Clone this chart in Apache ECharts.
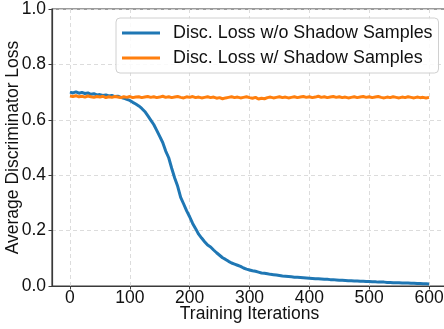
<!DOCTYPE html>
<html><head><meta charset="utf-8">
<script src="https://cdn.jsdelivr.net/npm/echarts@6/dist/echarts.min.js"></script>
<style>html,body{margin:0;padding:0;background:#fff}#c{width:444px;height:329px}</style>
</head><body><div id="c"></div>
<script>
const iterations = [0,5,10,15,20,25,30,35,40,45,50,55,60,65,70,75,80,85,90,95,100,105,110,115,120,125,130,135,140,145,150,155,160,165,170,175,180,185,190,195,200,205,210,215,220,225,230,235,240,245,250,255,260,265,270,275,280,285,290,295,300,305,310,315,320,325,330,335,340,345,350,355,360,365,370,375,380,385,390,395,400,405,410,415,420,425,430,435,440,445,450,455,460,465,470,475,480,485,490,495,500,505,510,515,520,525,530,535,540,545,550,555,560,565,570,575,580,585,590,595,600];
const lossWithoutShadow = [0.700,0.697,0.701,0.696,0.699,0.695,0.697,0.692,0.694,0.690,0.691,0.688,0.690,0.686,0.688,0.684,0.685,0.681,0.678,0.674,0.670,0.663,0.657,0.650,0.641,0.630,0.615,0.599,0.583,0.562,0.540,0.518,0.487,0.463,0.425,0.390,0.360,0.320,0.296,0.271,0.250,0.226,0.207,0.187,0.173,0.160,0.148,0.141,0.130,0.120,0.111,0.102,0.096,0.089,0.083,0.079,0.075,0.071,0.065,0.061,0.058,0.055,0.053,0.050,0.047,0.046,0.044,0.042,0.041,0.040,0.038,0.036,0.035,0.034,0.033,0.032,0.032,0.031,0.030,0.029,0.028,0.027,0.026,0.026,0.025,0.024,0.024,0.023,0.023,0.022,0.021,0.021,0.020,0.019,0.019,0.018,0.018,0.017,0.017,0.016,0.016,0.015,0.015,0.014,0.014,0.014,0.013,0.013,0.012,0.012,0.012,0.011,0.011,0.011,0.010,0.010,0.009,0.009,0.008,0.008,0.007];
const lossWithShadow = [0.686,0.684,0.687,0.683,0.685,0.682,0.686,0.683,0.681,0.684,0.682,0.685,0.680,0.683,0.681,0.684,0.682,0.680,0.683,0.681,0.684,0.680,0.682,0.683,0.680,0.682,0.684,0.681,0.683,0.680,0.682,0.685,0.681,0.683,0.680,0.682,0.684,0.681,0.679,0.683,0.681,0.684,0.680,0.682,0.679,0.681,0.683,0.680,0.682,0.678,0.680,0.676,0.679,0.681,0.683,0.680,0.682,0.679,0.681,0.683,0.680,0.678,0.681,0.675,0.678,0.676,0.680,0.682,0.679,0.681,0.683,0.680,0.682,0.679,0.681,0.683,0.680,0.682,0.684,0.681,0.683,0.680,0.682,0.685,0.681,0.683,0.680,0.682,0.684,0.681,0.683,0.680,0.682,0.679,0.681,0.683,0.680,0.682,0.684,0.681,0.683,0.680,0.682,0.684,0.681,0.679,0.682,0.680,0.683,0.681,0.679,0.682,0.680,0.683,0.681,0.679,0.682,0.680,0.681,0.679,0.681];
const seriesNames = ['Disc. Loss w/o Shadow Samples','Disc. Loss w/ Shadow Samples'];
const xTicks = [0,100,200,300,400,500,600];

const font = 'Liberation Sans, Arial, sans-serif';
const fs = 17.5;
const chart = echarts.init(document.getElementById('c'), null, {renderer:'canvas'});
const pair = arr => iterations.map((x,i)=>[x,arr[i]]);
chart.setOption({
  animation:false,
  backgroundColor:'#fff',
  grid:{left:52, top:9, width:395, height:277, show:true, containLabel:false, outerBoundsMode:'none', borderColor:'#3a3a3a', borderWidth:1.2, backgroundColor:'transparent'},
  legend:{
    left:116, top:18, orient:'vertical',
    itemWidth:38, itemHeight:3, itemGap:7, icon:'rect',
    padding:[6,6,6,6],
    backgroundColor:'rgba(255,255,255,0.85)', borderColor:'#d0d0d0', borderWidth:1, borderRadius:4,
    textStyle:{fontFamily:font, fontSize:17.9, color:'#111', padding:[0,0,0,8], lineHeight:18},
    data:seriesNames
  },
  xAxis:{
    type:'value', min:-30, max:630,
    name:'Training Iterations', nameLocation:'middle', nameGap:19, nameMoveOverlap:false,
    nameTextStyle:{fontFamily:font, fontSize:fs, color:'#111'},
    axisLine:{show:true, onZero:false, lineStyle:{color:'#3a3a3a', width:1.2}},
    axisTick:{show:true, length:3.5, lineStyle:{color:'#3a3a3a'}, customValues:xTicks},
    axisLabel:{fontFamily:font, fontSize:fs, color:'#111', margin:3, customValues:xTicks},
    splitLine:{show:true, lineStyle:{color:'#d8d8d8', type:[4,3], width:0.9}}
  },
  yAxis:{
    type:'value', min:0, max:1, interval:0.2,
    name:'Average Discriminator Loss', nameLocation:'middle', nameGap:30, nameMoveOverlap:false,
    nameTextStyle:{fontFamily:font, fontSize:fs, color:'#111'},
    axisLine:{show:true, onZero:false, lineStyle:{color:'#3a3a3a', width:1.2}},
    axisTick:{show:true, length:3.5, lineStyle:{color:'#3a3a3a'}},
    axisLabel:{fontFamily:font, fontSize:fs, color:'#111', margin:6, formatter:v=>v.toFixed(1)},
    splitLine:{show:true, lineStyle:{color:'#d8d8d8', type:[4,3], width:0.9}}
  },
  series:[
    {name:seriesNames[0], type:'line', data:pair(lossWithoutShadow), showSymbol:false, symbol:'none', lineStyle:{color:'#1f77b4', width:3}, itemStyle:{color:'#1f77b4'}},
    {name:seriesNames[1], type:'line', data:pair(lossWithShadow), showSymbol:false, symbol:'none', lineStyle:{color:'#ff7f0e', width:3}, itemStyle:{color:'#ff7f0e'}}
  ]
});
</script></body></html>
